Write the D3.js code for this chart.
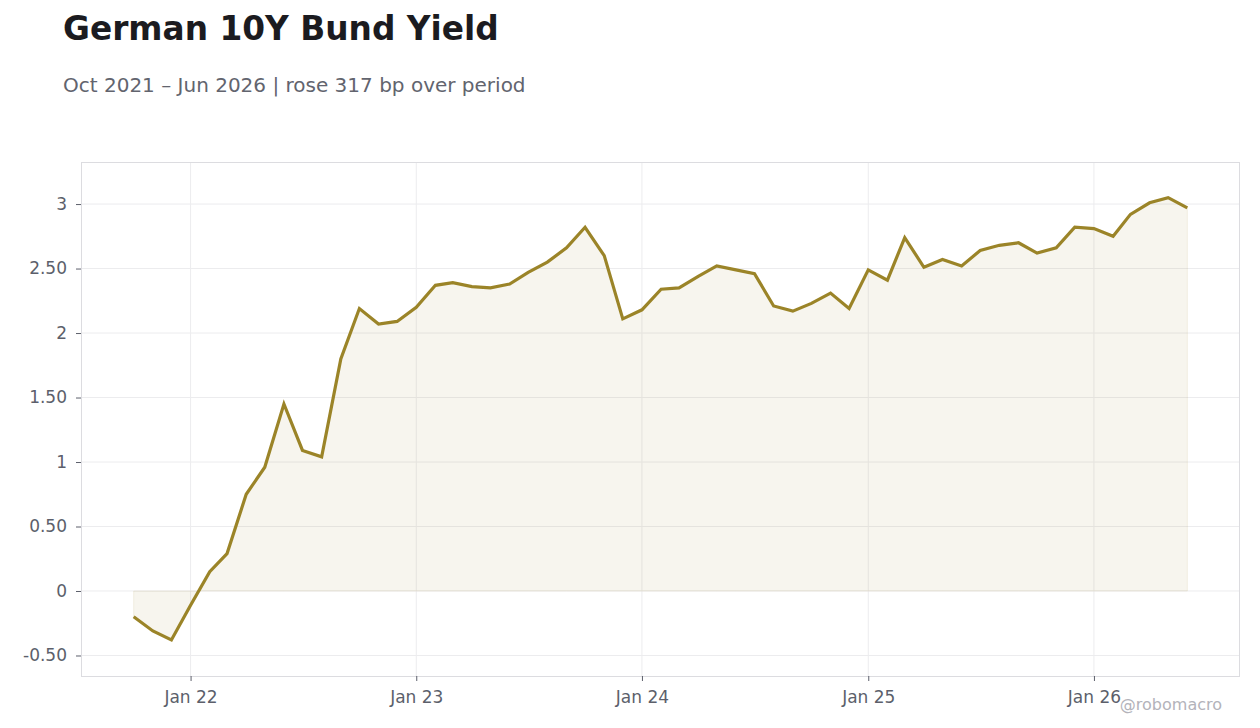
<!DOCTYPE html>
<html>
<head>
<meta charset="utf-8">
<script src="https://cdn.jsdelivr.net/npm/d3@7"></script>
<style>
  body { margin: 0; background: #fff; font-family: "DejaVu Sans", sans-serif; }
</style>
</head>
<body>
<div id="chart"></div>
<script>
// monthly observations, first of month
const months = [
  "2021-10","2021-11","2021-12",
  "2022-01","2022-02","2022-03","2022-04","2022-05","2022-06","2022-07","2022-08","2022-09","2022-10","2022-11","2022-12",
  "2023-01","2023-02","2023-03","2023-04","2023-05","2023-06","2023-07","2023-08","2023-09","2023-10","2023-11","2023-12",
  "2024-01","2024-02","2024-03","2024-04","2024-05","2024-06","2024-07","2024-08","2024-09","2024-10","2024-11","2024-12",
  "2025-01","2025-02","2025-03","2025-04","2025-05","2025-06","2025-07","2025-08","2025-09","2025-10","2025-11","2025-12",
  "2026-01","2026-02","2026-03","2026-04","2026-05","2026-06"
];
const yields = [
  -0.20, -0.31, -0.38,
  -0.11, 0.15, 0.29, 0.75, 0.96, 1.45, 1.09, 1.04, 1.80, 2.19, 2.07, 2.09,
  2.20, 2.37, 2.39, 2.36, 2.35, 2.38, 2.47, 2.55, 2.66, 2.82, 2.60, 2.11,
  2.18, 2.34, 2.35, 2.44, 2.52, 2.49, 2.46, 2.21, 2.17, 2.23, 2.31, 2.19,
  2.49, 2.41, 2.74, 2.51, 2.57, 2.52, 2.64, 2.68, 2.70, 2.62, 2.66, 2.82,
  2.81, 2.75, 2.92, 3.01, 3.05, 2.97
];
const yTicks = [-0.5, 0, 0.5, 1, 1.5, 2, 2.5, 3];
const xTickYears = [2022, 2023, 2024, 2025, 2026];

const title = "German 10Y Bund Yield";
const subtitle = "Oct 2021 – Jun 2026 | rose 317 bp over period";
const credit = "@robomacro";

const W = 1260, H = 728;
const margin = {top: 162, right: 20, bottom: 52, left: 81};
const lineColor = "#9b8428";

const parse = d3.timeParse("%Y-%m");
const data = months.map((m, i) => ({date: parse(m), value: yields[i]}));

const svg = d3.select("#chart").append("svg")
  .attr("width", W).attr("height", H)
  .style("font-family", "'DejaVu Sans', sans-serif");

// x domain padded 5% each side
const ext = d3.extent(data, d => d.date);
const span = ext[1] - ext[0];
const x = d3.scaleTime()
  .domain([new Date(+ext[0] - span * 0.05), new Date(+ext[1] + span * 0.05)])
  .range([margin.left, W - margin.right]);
const y = d3.scaleLinear()
  .domain([-0.659, 3.326])
  .range([H - margin.bottom, margin.top]);

const xTicks = xTickYears.map(yr => new Date(yr, 0, 1));

// grid
svg.append("g").selectAll("line.h").data(yTicks).join("line")
  .attr("x1", x.range()[0]).attr("x2", x.range()[1])
  .attr("y1", d => y(d)).attr("y2", d => y(d))
  .attr("stroke", "#ececee").attr("stroke-width", 1);
svg.append("g").selectAll("line.v").data(xTicks).join("line")
  .attr("x1", d => x(d)).attr("x2", d => x(d))
  .attr("y1", y.range()[1]).attr("y2", y.range()[0])
  .attr("stroke", "#ececee").attr("stroke-width", 1);

// area to zero
const area = d3.area()
  .x(d => x(d.date)).y0(y(0)).y1(d => y(d.value));
svg.append("path").datum(data)
  .attr("d", area)
  .attr("fill", lineColor).attr("fill-opacity", 0.08)
  .attr("stroke", lineColor).attr("stroke-opacity", 0.1).attr("stroke-width", 1);

// line
const line = d3.line().x(d => x(d.date)).y(d => y(d.value));
svg.append("path").datum(data)
  .attr("d", line)
  .attr("fill", "none")
  .attr("stroke", lineColor)
  .attr("stroke-width", 3.2);

// frame
svg.append("rect")
  .attr("x", x.range()[0] + 0.5).attr("y", y.range()[1] + 0.5)
  .attr("width", x.range()[1] - x.range()[0] - 1)
  .attr("height", y.range()[0] - y.range()[1])
  .attr("fill", "none").attr("stroke", "#dcdce0");

// axes
const fmtY = d => Number.isInteger(d) ? String(d) : d.toFixed(2);
const yAxis = svg.append("g")
  .attr("transform", `translate(${x.range()[0]},0)`)
  .call(d3.axisLeft(y).tickValues(yTicks).tickFormat(fmtY).tickSize(5).tickPadding(9));
const xAxis = svg.append("g")
  .attr("transform", `translate(0,${y.range()[0]})`)
  .call(d3.axisBottom(x).tickValues(xTicks).tickFormat(d3.timeFormat("Jan %y")).tickSize(5).tickPadding(10));
[yAxis, xAxis].forEach(g => {
  g.select(".domain").remove();
  g.selectAll(".tick line").attr("stroke", "#5c5f6b");
  g.selectAll(".tick text")
    .attr("fill", "#5c5f6b")
    .style("font-size", "17px")
    .style("font-family", "'DejaVu Sans', sans-serif");
});

// titles
svg.append("text").text(title)
  .attr("x", 63).attr("y", 40)
  .attr("fill", "#1b1b20")
  .style("font-size", "32.8px").style("font-weight", "bold");
svg.append("text").text(subtitle)
  .attr("x", 63).attr("y", 92)
  .attr("fill", "#62646e")
  .style("font-size", "20px");

svg.append("text").text(credit)
  .attr("x", 1222).attr("y", 710)
  .attr("text-anchor", "end")
  .attr("fill", "#b3b3ba")
  .style("font-size", "16px");
</script>
</body>
</html>
